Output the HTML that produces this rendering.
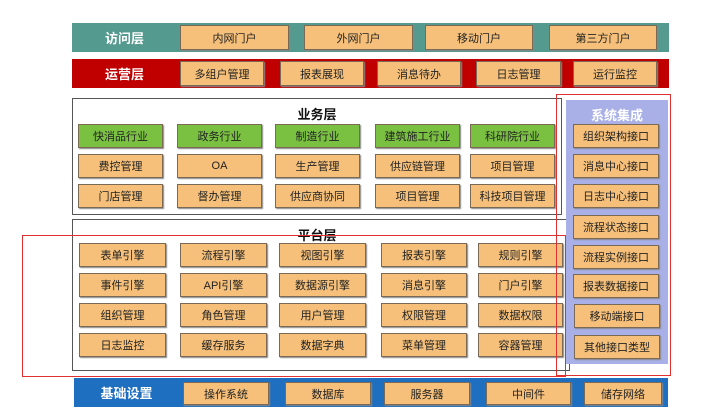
<!DOCTYPE html>
<html><head><meta charset="utf-8"><style>
body{margin:0;width:720px;height:413px;background:#fff;position:relative;overflow:hidden;font-family:"Liberation Sans","Noto Sans CJK SC",sans-serif;}
div{position:absolute;box-sizing:border-box;}
.b{background:#f6c07a;border:1px solid #7a6a55;font-size:11px;color:#222;text-align:center;display:flex;align-items:center;justify-content:center;box-shadow:1px 1px 1px #888;}
.g{background:#7ac142;}
.lbl{color:#fff;font-weight:bold;font-size:13px;text-align:center;display:flex;align-items:center;justify-content:center;}
.t{font-weight:bold;font-size:13px;color:#111;text-align:center;}
</style></head><body>
<div style="left:72px;top:23px;width:597px;height:29px;background:#559a8e"></div>
<div class="lbl" style="left:72px;top:23px;width:105px;height:29px">访问层</div>
<div class="b" style="left:180px;top:25px;width:109px;height:25px">内网门户</div>
<div class="b" style="left:304px;top:25px;width:109px;height:25px">外网门户</div>
<div class="b" style="left:425px;top:25px;width:108px;height:25px">移动门户</div>
<div class="b" style="left:549px;top:25px;width:108px;height:25px">第三方门户</div>

<div style="left:72px;top:59px;width:597px;height:29px;background:#c00000"></div>
<div class="lbl" style="left:72px;top:59px;width:105px;height:29px">运营层</div>
<div class="b" style="left:180px;top:61px;width:84px;height:25px">多组户管理</div>
<div class="b" style="left:280px;top:61px;width:84px;height:25px">报表展现</div>
<div class="b" style="left:377px;top:61px;width:84px;height:25px">消息待办</div>
<div class="b" style="left:476px;top:61px;width:85px;height:25px">日志管理</div>
<div class="b" style="left:573px;top:61px;width:84px;height:25px">运行监控</div>

<div style="left:72px;top:98px;width:490px;height:117px;border:1px solid #555"></div>
<div class="t" style="left:72px;top:104px;width:490px">业务层</div>
<div class="b g" style="left:78px;top:124px;width:85px;height:24px">快消品行业</div>
<div class="b g" style="left:177px;top:124px;width:85px;height:24px">政务行业</div>
<div class="b g" style="left:275px;top:124px;width:85px;height:24px">制造行业</div>
<div class="b g" style="left:375px;top:124px;width:85px;height:24px">建筑施工行业</div>
<div class="b g" style="left:470px;top:124px;width:85px;height:24px">科研院行业</div>
<div class="b" style="left:78px;top:154px;width:85px;height:24px">费控管理</div>
<div class="b" style="left:177px;top:154px;width:85px;height:24px">OA</div>
<div class="b" style="left:275px;top:154px;width:85px;height:24px">生产管理</div>
<div class="b" style="left:375px;top:154px;width:85px;height:24px">供应链管理</div>
<div class="b" style="left:470px;top:154px;width:85px;height:24px">项目管理</div>
<div class="b" style="left:78px;top:184px;width:85px;height:24px">门店管理</div>
<div class="b" style="left:177px;top:184px;width:85px;height:24px">督办管理</div>
<div class="b" style="left:275px;top:184px;width:85px;height:24px">供应商协同</div>
<div class="b" style="left:375px;top:184px;width:85px;height:24px">项目管理</div>
<div class="b" style="left:470px;top:184px;width:85px;height:24px">科技项目管理</div>

<div style="left:72px;top:219px;width:498px;height:152px;border:1px solid #555"></div>
<div class="t" style="left:72px;top:225px;width:490px">平台层</div>
<div style="left:22px;top:235px;width:544px;height:142px;border:1.5px solid #e03030"></div>

<div class="b" style="left:79px;top:243px;width:87px;height:24px">表单引擎</div>
<div class="b" style="left:180px;top:243px;width:87px;height:24px">流程引擎</div>
<div class="b" style="left:279px;top:243px;width:87px;height:24px">视图引擎</div>
<div class="b" style="left:381px;top:243px;width:86px;height:24px">报表引擎</div>
<div class="b" style="left:478px;top:243px;width:85px;height:24px">规则引擎</div>
<div class="b" style="left:79px;top:273px;width:87px;height:24px">事件引擎</div>
<div class="b" style="left:180px;top:273px;width:87px;height:24px">API引擎</div>
<div class="b" style="left:279px;top:273px;width:87px;height:24px">数据源引擎</div>
<div class="b" style="left:381px;top:273px;width:86px;height:24px">消息引擎</div>
<div class="b" style="left:478px;top:273px;width:85px;height:24px">门户引擎</div>
<div class="b" style="left:79px;top:303px;width:87px;height:24px">组织管理</div>
<div class="b" style="left:180px;top:303px;width:87px;height:24px">角色管理</div>
<div class="b" style="left:279px;top:303px;width:87px;height:24px">用户管理</div>
<div class="b" style="left:381px;top:303px;width:86px;height:24px">权限管理</div>
<div class="b" style="left:478px;top:303px;width:85px;height:24px">数据权限</div>
<div class="b" style="left:79px;top:333px;width:87px;height:24px">日志监控</div>
<div class="b" style="left:180px;top:333px;width:87px;height:24px">缓存服务</div>
<div class="b" style="left:279px;top:333px;width:87px;height:24px">数据字典</div>
<div class="b" style="left:381px;top:333px;width:86px;height:24px">菜单管理</div>
<div class="b" style="left:478px;top:333px;width:85px;height:24px">容器管理</div>

<div style="left:566px;top:100px;width:102px;height:264px;background:#a9b0e8"></div>
<div style="left:556px;top:94px;width:115px;height:282px;border:1.5px solid #e03030"></div>
<div class="lbl" style="left:566px;top:104px;width:102px;height:20px;font-size:13px">系统集成</div>
<div class="b" style="left:573px;top:124px;width:86px;height:24px">组织架构接口</div>
<div class="b" style="left:573px;top:154px;width:86px;height:24px">消息中心接口</div>
<div class="b" style="left:573px;top:184px;width:86px;height:24px">日志中心接口</div>
<div class="b" style="left:573px;top:215px;width:86px;height:24px">流程状态接口</div>
<div class="b" style="left:573px;top:245px;width:86px;height:24px">流程实例接口</div>
<div class="b" style="left:573px;top:274px;width:86px;height:24px">报表数据接口</div>
<div class="b" style="left:574px;top:304px;width:86px;height:24px">移动端接口</div>
<div class="b" style="left:574px;top:335px;width:86px;height:24px">其他接口类型</div>

<div style="left:74px;top:378px;width:594px;height:29px;background:#1f6fc0"></div>
<div class="lbl" style="left:74px;top:378px;width:105px;height:29px">基础设置</div>
<div class="b" style="left:183px;top:382px;width:86px;height:23px">操作系统</div>
<div class="b" style="left:285px;top:382px;width:86px;height:23px">数据库</div>
<div class="b" style="left:384px;top:382px;width:86px;height:23px">服务器</div>
<div class="b" style="left:486px;top:382px;width:85px;height:23px">中间件</div>
<div class="b" style="left:584px;top:382px;width:78px;height:23px">储存网络</div>
</body></html>
